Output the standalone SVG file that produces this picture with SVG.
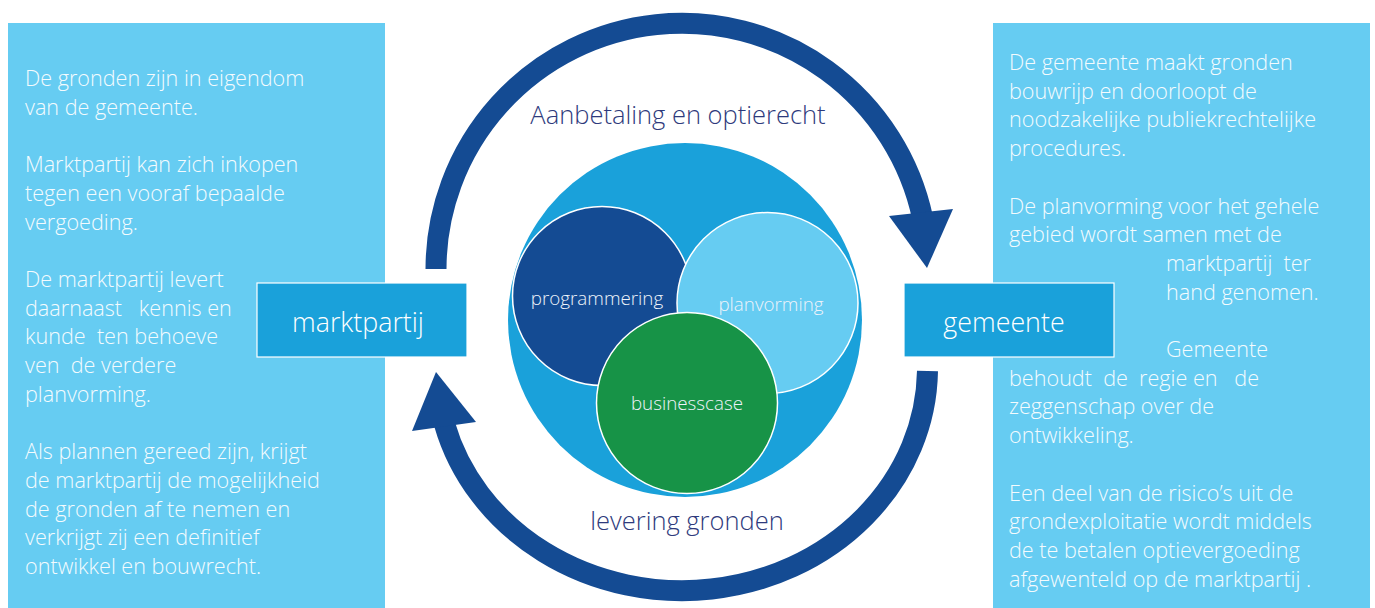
<svg xmlns="http://www.w3.org/2000/svg" width="1375" height="608" viewBox="0 0 1375 608">
  <style>
    .panel { fill: #66ccf2; }
    .box { fill: #1aa1da; stroke: #ffffff; stroke-width: 1.2; }
    .body { font-family: "Open Sans", "Liberation Sans", sans-serif; font-weight: 300; font-size: 21.6px; fill: #f4fbfe; white-space: pre; }
    .boxlabel { font-family: "Open Sans", "Liberation Sans", sans-serif; font-weight: 300; font-size: 26.8px; fill: #ffffff; text-anchor: middle; }
    .flow { font-family: "Open Sans", "Liberation Sans", sans-serif; font-weight: 300; font-size: 25.5px; fill: #2e3a7c; text-anchor: middle; }
    .inner { font-family: "Open Sans", "Liberation Sans", sans-serif; font-weight: 300; font-size: 18.8px; fill: #eef3fa; text-anchor: middle; }
    .ring { stroke: #ffffff; stroke-width: 1.5; }
    .arc { fill: none; stroke: #144b93; stroke-width: 21; stroke-linecap: butt; }
    .head { fill: #144b93; }
  </style>

  <!-- side panels -->
  <rect class="panel" x="8" y="23" width="377" height="585"/>
  <rect class="panel" x="993" y="23" width="377" height="585"/>

  <!-- left panel text -->
  <text class="body" x="25" y="86">
    <tspan x="25" y="86">De gronden zijn in eigendom</tspan>
    <tspan x="25" y="114.7">van de gemeente.</tspan>
    <tspan x="25" y="172.1">Marktpartij kan zich inkopen</tspan>
    <tspan x="25" y="200.8">tegen een vooraf bepaalde</tspan>
    <tspan x="25" y="229.5">vergoeding.</tspan>
    <tspan x="25" y="286.9">De marktpartij levert</tspan>
    <tspan x="25" y="315.6">daarnaast   kennis en</tspan>
    <tspan x="25" y="344.3">kunde  ten behoeve</tspan>
    <tspan x="25" y="373">ven  de verdere</tspan>
    <tspan x="25" y="401.7">planvorming.</tspan>
    <tspan x="25" y="459.1">Als plannen gereed zijn, krijgt</tspan>
    <tspan x="25" y="487.8">de marktpartij de mogelijkheid</tspan>
    <tspan x="25" y="516.5">de gronden af te nemen en</tspan>
    <tspan x="25" y="545.2">verkrijgt zij een definitief</tspan>
    <tspan x="25" y="573.9">ontwikkel en bouwrecht.</tspan>
  </text>

  <!-- right panel text -->
  <text class="body" x="1009" y="70">
    <tspan x="1009" y="70">De gemeente maakt gronden</tspan>
    <tspan x="1009" y="98.7">bouwrijp en doorloopt de</tspan>
    <tspan x="1009" y="127.4">noodzakelijke publiekrechtelijke</tspan>
    <tspan x="1009" y="156.1">procedures.</tspan>
    <tspan x="1009" y="213.5">De planvorming voor het gehele</tspan>
    <tspan x="1009" y="242.2">gebied wordt samen met de</tspan>
    <tspan x="1166" y="270.9">marktpartij  ter</tspan>
    <tspan x="1166" y="299.6">hand genomen.</tspan>
    <tspan x="1166" y="357">Gemeente</tspan>
    <tspan x="1009" y="385.7">behoudt  de  regie en   de</tspan>
    <tspan x="1009" y="414.4">zeggenschap over de</tspan>
    <tspan x="1009" y="443.1">ontwikkeling.</tspan>
    <tspan x="1009" y="500.5">Een deel van de risico’s uit de</tspan>
    <tspan x="1009" y="529.2">grondexploitatie wordt middels</tspan>
    <tspan x="1009" y="557.9">de te betalen optievergoeding</tspan>
    <tspan x="1009" y="586.6">afgewenteld op de marktpartij .</tspan>
  </text>

  <!-- connectors: the two curved flow arrows -->
  <g id="connectors">
    <path class="arc" d="M436,269 A246,246 0 0 1 922.6,218"/>
    <polygon class="head" points="889,216 953,209 927,268"/>
    <path class="arc" d="M927.5,371 A245.5,223 0 0 1 444.5,424"/>
    <polygon class="head" points="412,431 476,422 436,372"/>
  </g>

  <text class="flow" x="678" y="124">Aanbetaling en optierecht</text>
  <text class="flow" x="687" y="530">levering gronden</text>

  <!-- actor boxes -->
  <g id="marktpartij">
    <rect class="box" x="257" y="283" width="210" height="74"/>
    <text class="boxlabel" x="358" y="332">marktpartij</text>
  </g>
  <g id="gemeente">
    <rect class="box" x="904" y="283" width="210" height="74"/>
    <text class="boxlabel" x="1004" y="332">gemeente</text>
  </g>

  <!-- central cluster -->
  <g id="kern">
    <circle cx="685" cy="320" r="177" fill="#1aa1da"/>
  </g>
  <g id="programmering">
    <circle class="ring" cx="602" cy="296" r="89.5" fill="#144b93"/>
    <text class="inner" x="597" y="305">programmering</text>
  </g>
  <g id="planvorming">
    <circle class="ring" cx="767.5" cy="303" r="90.5" fill="#66ccf2"/>
    <text class="inner" x="771" y="311">planvorming</text>
  </g>
  <g id="businesscase">
    <circle class="ring" cx="687" cy="403" r="90.5" fill="#179347"/>
    <text class="inner" x="687" y="410">businesscase</text>
  </g>
</svg>
